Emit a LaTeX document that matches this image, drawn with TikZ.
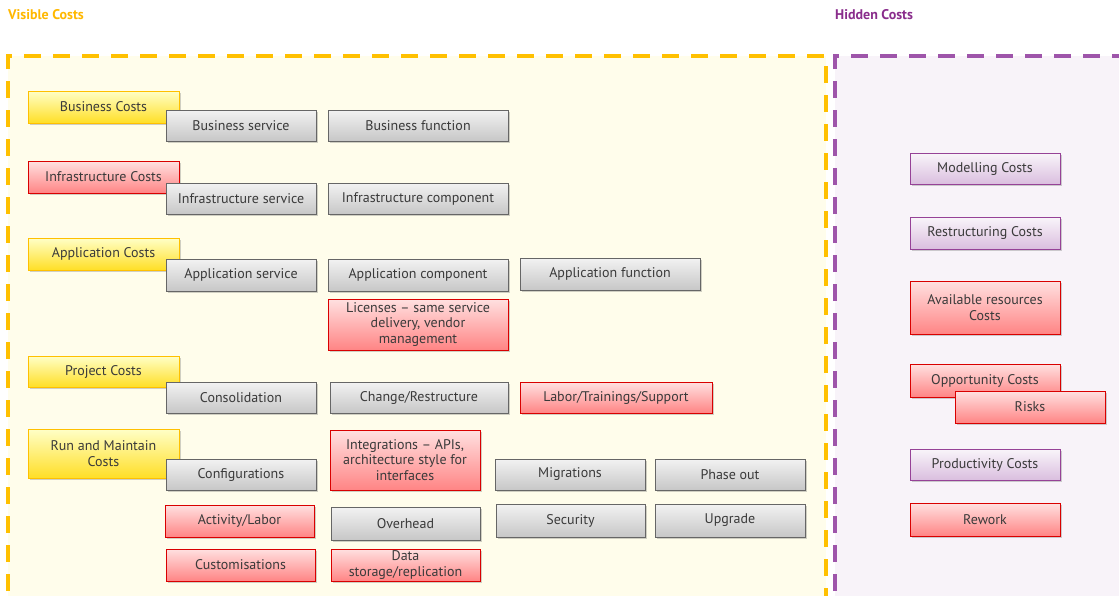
\documentclass[tikz,border=0pt]{standalone}
\usepackage{fontspec}
\setmainfont{PT Sans}
\usetikzlibrary{shadows}
\definecolor{visline}{HTML}{FFC000}
\definecolor{visfill}{HTML}{FFFDEB}
\definecolor{hidline}{HTML}{9E55AA}
\definecolor{hidfill}{HTML}{F8F3F9}
\definecolor{vistitle}{HTML}{FFB800}
\definecolor{hidtitle}{HTML}{8A2D8C}
\definecolor{boxtext}{HTML}{3A3A3A}
\tikzset{
  x=1pt, y=-1pt,
  area/.style={line width=3.2pt, dash pattern=on 17pt off 12pt},
  title/.style={anchor=base west, font=\bfseries\fontsize{14}{16}\selectfont, inner sep=0pt},
  costbox/.style={draw, line width=0.8pt, inner sep=1pt, align=center,
    text=boxtext, font=\fontsize{14}{15.5}\selectfont,
    drop shadow={shadow xshift=1.5pt, shadow yshift=-1.5pt, opacity=0.3, fill=black!60}},
  graybox/.style={costbox, draw=black!60, top color=white!95!black, bottom color=black!22},
  redbox/.style={costbox, draw=red!85!black, top color=red!12, bottom color=red!48},
  yellowbox/.style={costbox, draw=visline, top color=yellow!22, bottom color=yellow!70!orange!85},
  purplebox/.style={costbox, draw=hidtitle!90, top color=hidline!6, bottom color=hidline!38},
}
\newcommand{\bx}[6]{\node[#1, minimum width=#4pt, minimum height=#5pt] (#2) at (#3) {#6};}
\begin{document}
\begin{tikzpicture}
\useasboundingbox (0,0) rectangle (1119,595);
\clip (0,0) rectangle (1119,595);
\fill[white] (0,0) rectangle (1119,595);

% the two cost areas: tinted backgrounds, then the dashed open frames
\fill[visfill] (8,56) rectangle (826,620);
\fill[hidfill] (835,56) rectangle (1140,620);
\draw[area, draw=visline] (8,620) -- (8,56) -- (826,56) -- (826,620);
\draw[area, draw=hidline] (835,620) -- (835,56) -- (1140,56);
\node[title, text=vistitle] (vt) at (8,19) {Visible Costs};
\node[title, text=hidtitle] (ht) at (835,19) {Hidden Costs};

% visible cost categories
\bx{yellowbox}{bc}{103.5,107}{151}{32}{Business Costs}
\bx{redbox}{ic}{103.5,177}{151}{32}{Infrastructure Costs}
\bx{yellowbox}{ac}{103.5,254}{151}{32}{Application Costs}
\bx{yellowbox}{pc}{103.5,371.5}{151}{31}{Project Costs}
\bx{yellowbox}{rm}{103.5,453.5}{151}{49}{Run and Maintain\\Costs}

% business
\bx{graybox}{bs}{241,125.5}{150}{31}{Business service}
\bx{graybox}{bf}{418,125.5}{180}{31}{Business function}
% infrastructure
\bx{graybox}{is}{241,198.5}{150}{31}{Infrastructure service}
\bx{graybox}{icomp}{418,198.5}{180}{31}{Infrastructure component}
% application
\bx{graybox}{as}{241,275}{150}{32}{Application service}
\bx{graybox}{acomp}{418,275}{180}{32}{Application component}
\bx{graybox}{af}{610,274}{180}{32}{Application function}
\bx{redbox}{lic}{418,324.5}{180}{51}{Licenses – same service\\delivery, vendor\\management}
% project
\bx{graybox}{cons}{241,397.5}{150}{31}{Consolidation}
\bx{graybox}{chg}{419,397.5}{178}{31}{Change/Restructure}
\bx{redbox}{lts}{616,397.5}{192}{31}{Labor/Trainings/Support}
% run and maintain
\bx{graybox}{conf}{241,474.5}{150}{31}{Configurations}
\bx{redbox}{integ}{405,460}{150}{60}{Integrations – APIs,\\architecture style for\\interfaces}
\bx{graybox}{mig}{570,474.5}{150}{31}{Migrations}
\bx{graybox}{phase}{730,474.5}{150}{31}{Phase out}
\bx{redbox}{act}{239.5,521}{149}{32}{Activity/Labor}
\bx{graybox}{ovh}{405.5,523.5}{149}{33}{Overhead}
\bx{graybox}{sec}{570.5,520.5}{149}{33}{Security}
\bx{graybox}{upg}{730,520.5}{150}{33}{Upgrade}
\bx{redbox}{cust}{240.5,565}{149}{32}{Customisations}
\bx{redbox}{data}{405.5,565}{149}{32}{Data\\storage/replication}

% hidden costs
\bx{purplebox}{model}{985,168.5}{150}{31}{Modelling Costs}
\bx{purplebox}{restr}{985,233}{150}{32}{Restructuring Costs}
\bx{redbox}{avail}{985,307.5}{150}{53}{Available resources\\Costs}
\bx{redbox}{opp}{985,380.5}{150}{33}{Opportunity Costs}
\bx{redbox}{risk}{1030,407}{150}{32}{Risks}
\bx{purplebox}{prod}{985,464.5}{150}{31}{Productivity Costs}
\bx{redbox}{rew}{985,519.5}{150}{33}{Rework}
\end{tikzpicture}
\end{document}
